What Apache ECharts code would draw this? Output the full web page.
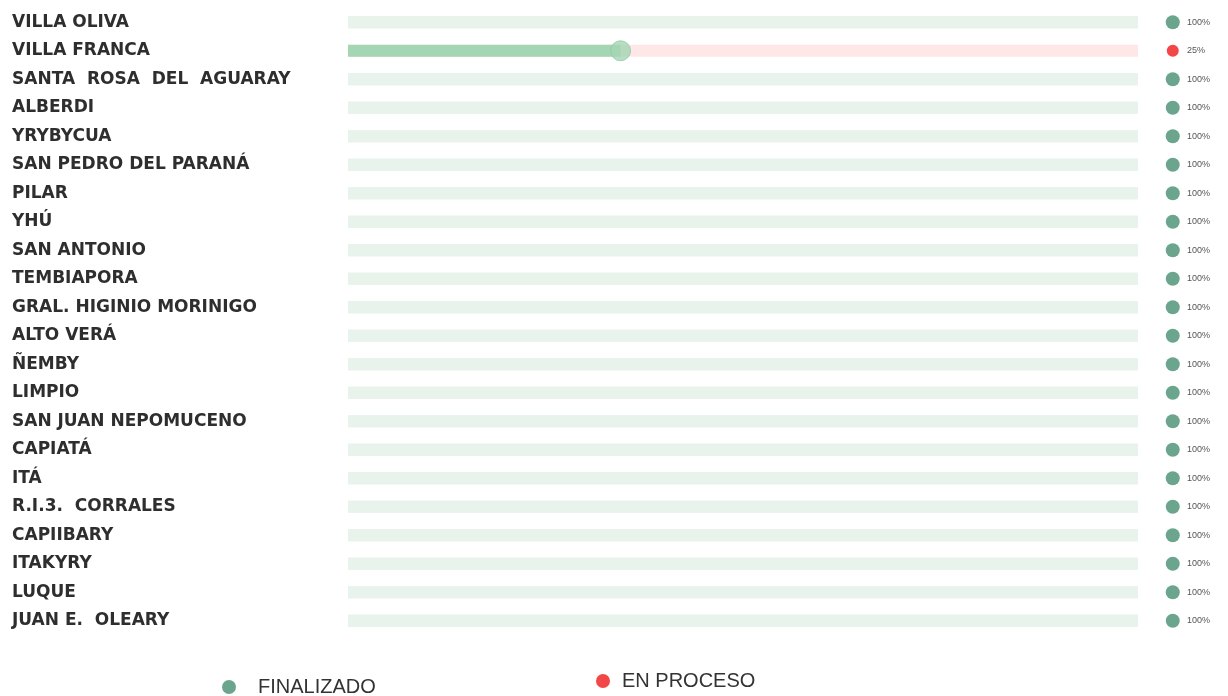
<!DOCTYPE html>
<html>
<head>
<meta charset="utf-8">
<title>Avance por distrito</title>
<script src="https://cdn.jsdelivr.net/npm/echarts@6/dist/echarts.min.js"></script>
<style>
  html, body { margin: 0; padding: 0; background: #fff; }
  #chart { width: 1228px; height: 696px; }
</style>
</head>
<body>
<div id="chart"></div>
<script>
  // rows, top to bottom
  var districts = ['VILLA OLIVA', 'VILLA FRANCA', 'SANTA  ROSA  DEL  AGUARAY', 'ALBERDI', 'YRYBYCUA',
    'SAN PEDRO DEL PARANÁ', 'PILAR', 'YHÚ', 'SAN ANTONIO', 'TEMBIAPORA', 'GRAL. HIGINIO MORINIGO',
    'ALTO VERÁ', 'ÑEMBY', 'LIMPIO', 'SAN JUAN NEPOMUCENO', 'CAPIATÁ', 'ITÁ', 'R.I.3.  CORRALES',
    'CAPIIBARY', 'ITAKYRY', 'LUQUE', 'JUAN E.  OLEARY'];
  // percentage written next to each dot
  var pctLabels = [100, 25, 100, 100, 100, 100, 100, 100, 100, 100, 100,
    100, 100, 100, 100, 100, 100, 100, 100, 100, 100, 100];
  // length of the drawn bar (villa franca's bar reaches ~34% of it)
  var barValues = [100, 34.5, 100, 100, 100, 100, 100, 100, 100, 100, 100,
    100, 100, 100, 100, 100, 100, 100, 100, 100, 100, 100];
  // F = finalizado, P = en proceso  (not "status": that clashes with window.status)
  var rowState = ['F', 'P', 'F', 'F', 'F', 'F', 'F', 'F', 'F', 'F', 'F',
    'F', 'F', 'F', 'F', 'F', 'F', 'F', 'F', 'F', 'F', 'F'];

  var DOT_X = 104.4; // status dot sits right of the track

  var trackColor = { F: '#e7f3eb', P: '#fde7e7' };
  var barColor = { F: '#e7f3eb', P: '#a4d6b4' };

  var trackData = [], barData = [], capData = [], finData = [], procData = [];
  districts.forEach(function (d, i) {
    var s = rowState[i];
    trackData.push({ value: 100, itemStyle: { color: trackColor[s] } });
    barData.push({ value: barValues[i], itemStyle: { color: barColor[s] } });
    if (s === 'P') {
      capData.push([barValues[i], i]);
      procData.push([DOT_X, i]);
    } else {
      finData.push([DOT_X, i]);
    }
  });

  var chart = echarts.init(document.getElementById('chart'));
  chart.setOption({
    animation: false,
    grid: { left: 348, right: 90, top: 8, bottom: 61 },
    legend: [
      {
        data: ['FINALIZADO'], left: 217, top: 672, icon: 'circle',
        itemWidth: 14, itemHeight: 14,
        textStyle: { fontFamily: 'Liberation Sans', fontSize: 20, color: '#333', padding: [0, 0, 0, 17] }
      },
      {
        data: ['EN PROCESO'], left: 591, top: 666, icon: 'circle',
        itemWidth: 14, itemHeight: 14,
        textStyle: { fontFamily: 'Liberation Sans', fontSize: 20, color: '#333', padding: [0, 0, 0, 7] }
      }
    ],
    xAxis: { type: 'value', min: 0, max: 100, show: false },
    yAxis: [
      {
        type: 'category', data: districts, inverse: true,
        axisLine: { show: false }, axisTick: { show: false },
        axisLabel: {
          align: 'left', margin: 336, padding: [0, 0, 12, 0],
          fontFamily: 'DejaVu Sans', fontWeight: 'bold', fontSize: 17, color: '#2e2e2e'
        }
      },
      {
        type: 'category', data: districts, inverse: true, position: 'right',
        axisLine: { show: false }, axisTick: { show: false },
        axisLabel: {
          align: 'left', margin: 49, padding: [0, 0, 2, 0],
          fontFamily: 'Liberation Sans', fontSize: 9, color: '#555',
          formatter: function (v, i) { return pctLabels[i] + '%'; }
        }
      }
    ],
    series: [
      {
        name: 'track', type: 'bar', data: trackData, barWidth: 12,
        silent: true, z: 1
      },
      {
        name: 'avance', type: 'bar', data: barData, barWidth: 12,
        barGap: '-100%', silent: true, z: 2
      },
      {
        name: 'cap', type: 'scatter', data: capData, symbolSize: 20, z: 3,
        itemStyle: { color: '#a4d6b4', borderColor: '#90c9a2', borderWidth: 1 }
      },
      {
        name: 'FINALIZADO', type: 'scatter', data: finData, symbolSize: 14, clip: false,
        itemStyle: { color: '#468f70' }
      },
      {
        name: 'EN PROCESO', type: 'scatter', data: procData, symbolSize: 12, clip: false,
        itemStyle: { color: '#f01818' }
      }
    ]
  });
</script>
</body>
</html>
